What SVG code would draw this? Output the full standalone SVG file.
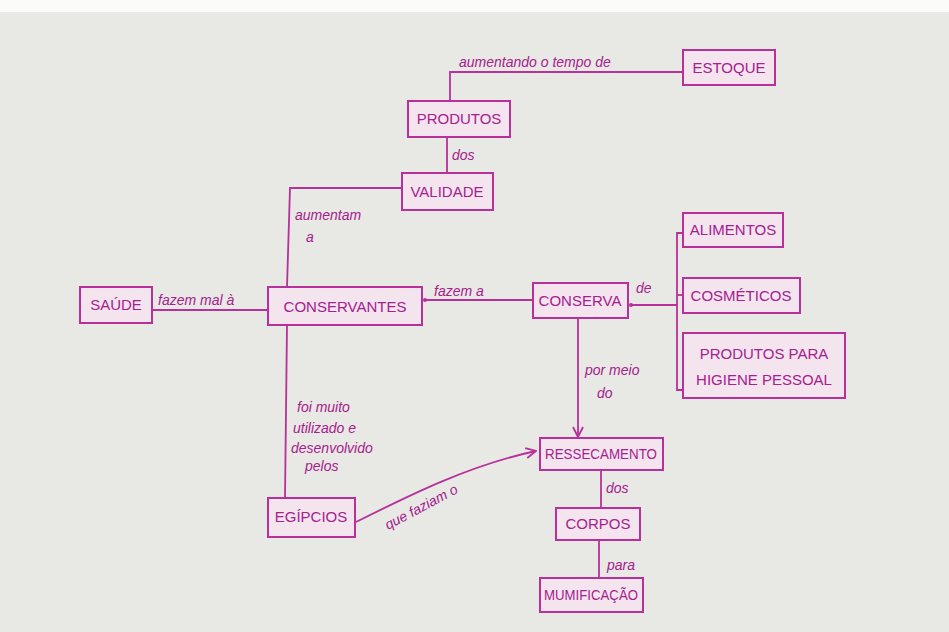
<svg xmlns="http://www.w3.org/2000/svg" width="949" height="632" viewBox="0 0 949 632">
<defs>
<style>
.bg{fill:#e8e8e4}
.box{fill:#f3e4ee;stroke:#b8309a;stroke-width:2}
.n{font-family:"Liberation Sans",Arial,sans-serif;font-size:15px;fill:#a6208e;text-anchor:middle}
.l{font-family:"Liberation Sans",Arial,sans-serif;font-style:italic;font-size:14px;fill:#a6208e}
.c{fill:none;stroke:#b8309a;stroke-width:1.8}
</style>
<marker id="arr" viewBox="0 0 12 12" refX="11" refY="6" markerWidth="12" markerHeight="12" markerUnits="userSpaceOnUse" orient="auto">
<path d="M1,1 L11,6 L1,11" fill="none" stroke="#b8309a" stroke-width="1.8"/>
</marker>
</defs>
<rect class="bg" x="0" y="0" width="949" height="632"/>
<rect x="0" y="0" width="949" height="12" fill="#fbfbfa"/>

<g id="connectors">
<path class="c" d="M450,101 L450,72 L683,72"/>
<path class="c" d="M447,137 L447,173"/>
<path class="c" d="M402,188 L290,188 L287,287"/>
<path class="c" d="M152,310 L268,310"/>
<path class="c" d="M533,300 L424,300"/>
<circle cx="425" cy="300" r="2" fill="#b8309a"/>
<path class="c" d="M677,305 L630,305"/>
<circle cx="631" cy="305" r="2" fill="#b8309a"/>
<path class="c" d="M683,233 L677,233 L677,390 L683,390"/>
<path class="c" d="M677,295 L683,295"/>
<path class="c" d="M578,318 L578,437" marker-end="url(#arr)"/>
<path class="c" d="M287,325 L285,498"/>
<path class="c" d="M356,522 C410,495 470,465 536,451" marker-end="url(#arr)"/>
<path class="c" d="M601,470 L601,508"/>
<path class="c" d="M599,540 L599,578"/>
</g>

<g id="labels">
<text class="l" x="459" y="67" font-size="15">aumentando o tempo de</text>
<text class="l" x="452" y="160">dos</text>
<text class="l" x="295" y="220">aumentam</text>
<text class="l" x="306" y="242">a</text>
<text class="l" x="158" y="305">fazem mal à</text>
<text class="l" x="434" y="296" font-size="15">fazem a</text>
<text class="l" x="636" y="293" font-size="15">de</text>
<text class="l" x="585" y="375">por meio</text>
<text class="l" x="597" y="398">do</text>
<text class="l" x="297" y="412">foi muito</text>
<text class="l" x="293" y="433">utilizado e</text>
<text class="l" x="291" y="453">desenvolvido</text>
<text class="l" x="305" y="471">pelos</text>
<text class="l" transform="translate(388,530) rotate(-28)" font-size="15">que faziam o</text>
<text class="l" x="606" y="493">dos</text>
<text class="l" x="607" y="570">para</text>
</g>

<g id="estoque"><rect class="box" x="683" y="50" width="92" height="35"/><text class="n" x="729" y="73" font-size="16">ESTOQUE</text></g>
<g id="produtos"><rect class="box" x="408" y="101" width="102" height="36"/><text class="n" x="459" y="124" font-size="16">PRODUTOS</text></g>
<g id="validade"><rect class="box" x="402" y="173" width="91" height="37"/><text class="n" x="447" y="197" font-size="16">VALIDADE</text></g>
<g id="saude"><rect class="box" x="80" y="287" width="72" height="36"/><text class="n" x="116" y="310" font-size="16">SAÚDE</text></g>
<g id="conservantes"><rect class="box" x="268" y="287" width="154" height="38"/><text class="n" x="345" y="312" font-size="18">CONSERVANTES</text></g>
<g id="conserva"><rect class="box" x="533" y="283" width="95" height="35"/><text class="n" x="580" y="306">CONSERVA</text></g>
<g id="alimentos"><rect class="box" x="683" y="213" width="100" height="34"/><text class="n" x="733" y="235">ALIMENTOS</text></g>
<g id="cosmeticos"><rect class="box" x="683" y="278" width="117" height="35"/><text class="n" x="741" y="301">COSMÉTICOS</text></g>
<g id="higiene"><rect class="box" x="683" y="333" width="162" height="65"/><text class="n" x="764" y="359">PRODUTOS PARA</text><text class="n" x="764" y="385">HIGIENE PESSOAL</text></g>
<g id="ressecamento"><rect class="box" x="540" y="438" width="123" height="32"/><text class="n" x="601" y="459" font-size="14" textLength="112" lengthAdjust="spacingAndGlyphs">RESSECAMENTO</text></g>
<g id="corpos"><rect class="box" x="556" y="508" width="84" height="32"/><text class="n" x="598" y="529">CORPOS</text></g>
<g id="mumificacao"><rect class="box" x="540" y="578" width="103" height="34"/><text class="n" x="591" y="600" font-size="14" textLength="94" lengthAdjust="spacingAndGlyphs">MUMIFICAÇÃO</text></g>
<g id="egipcios"><rect class="box" x="268" y="498" width="87" height="39"/><text class="n" x="311" y="522">EGÍPCIOS</text></g>
</svg>
